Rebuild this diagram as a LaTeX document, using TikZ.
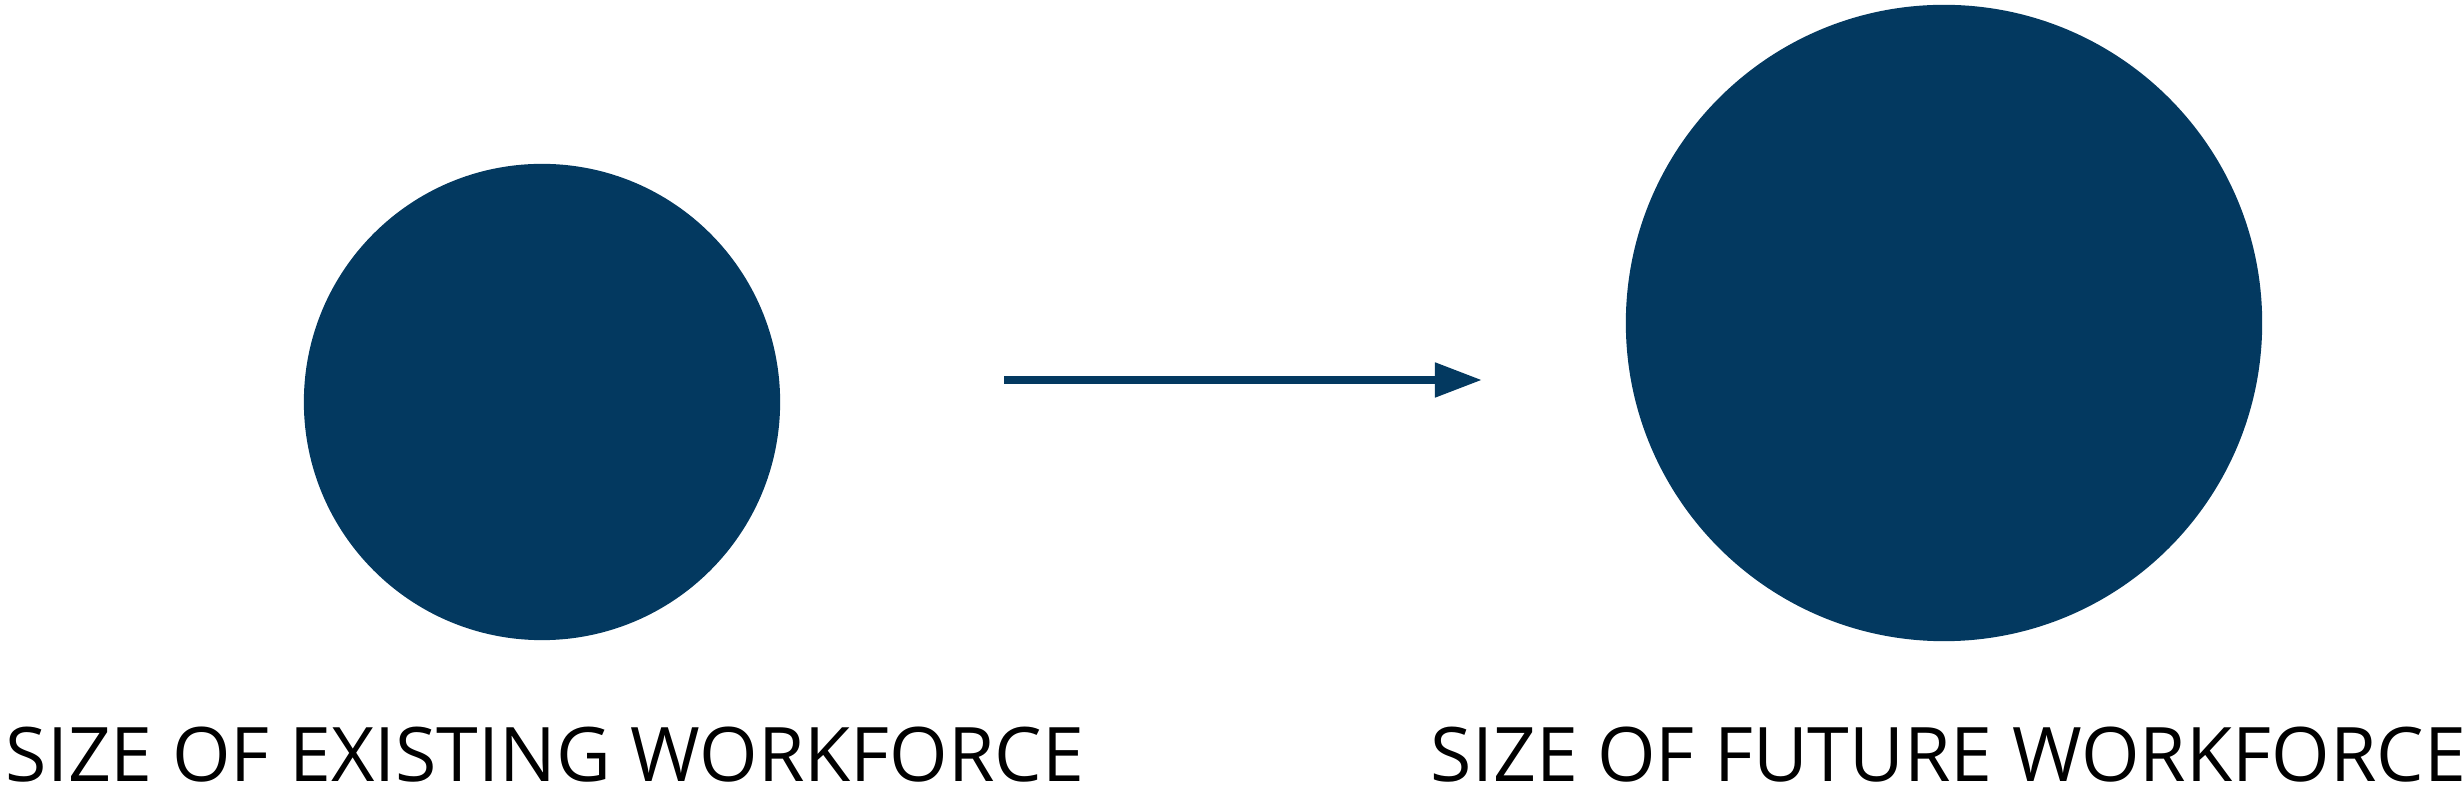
\documentclass[tikz,border=0pt]{standalone}
\usepackage{fontspec}
\setmainfont{Open Sans}
\usetikzlibrary{arrows.meta}
\definecolor{navy}{RGB}{3,57,96}
\begin{document}
\begin{tikzpicture}[x=0.01cm,y=-0.01cm,
    blob/.style={circle,fill=navy,inner sep=0pt},
    caption/.style={anchor=base west,inner sep=0pt,text depth=0pt,font=\fontsize{21.4}{26}\selectfont},
    flow/.style={draw=navy,line width=0.08cm,-{Triangle[length=0.47cm,width=0.33cm]}}]
  \useasboundingbox (0,0) rectangle (2464,792);
  \node[blob,minimum size=4.76cm] (existing) at (542,402) {};
  \node[blob,minimum size=6.36cm] (future) at (1944,323) {};
  \coordinate (arrowstart) at (1004,380);
  \coordinate (arrowend) at (1482,380);
  \draw[flow] (arrowstart) -- (arrowend);
  \node[caption] (existinglabel) at (5,782) {SIZE OF EXISTING WORKFORCE};
  \node[caption] (futurelabel) at (1430,782) {SIZE OF FUTURE WORKFORCE};
\end{tikzpicture}
\end{document}
